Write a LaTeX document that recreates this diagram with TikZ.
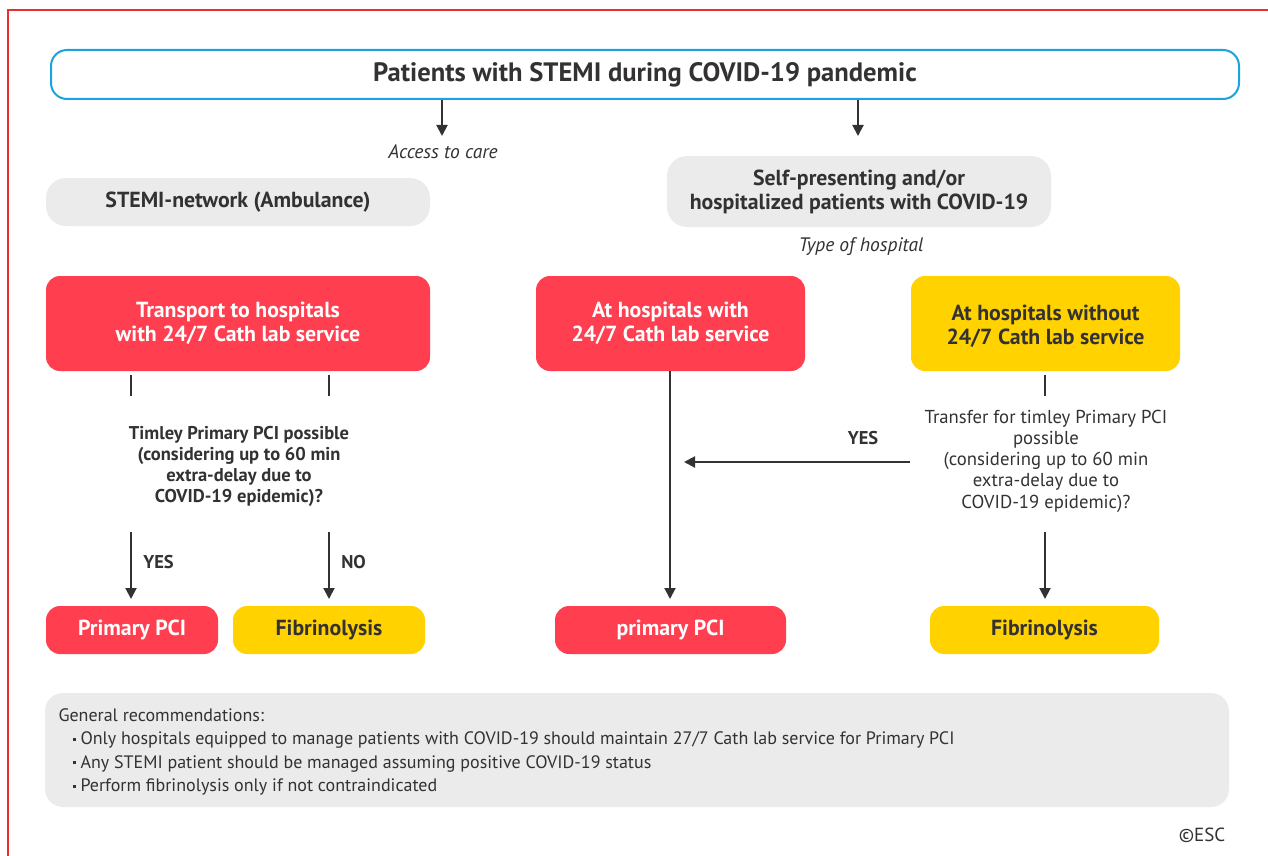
\documentclass[tikz,border=0pt]{standalone}
\usepackage{fontspec}
\setmainfont{PT Sans}
\usetikzlibrary{arrows.meta}
\definecolor{escred}{HTML}{E8302F}
\definecolor{escblue}{HTML}{1BA3E0}
\definecolor{boxred}{HTML}{FF3F50}
\definecolor{boxyel}{HTML}{FFD200}
\definecolor{boxgray}{HTML}{EBEBEB}
\definecolor{ink}{HTML}{333132}
\newcommand{\mybul}{\hspace*{14pt}\rule[4pt]{3pt}{3pt}\hspace{5pt}}
\tikzset{
  graybox/.style={fill=boxgray,rounded corners=20pt,inner sep=0pt,align=center,text=ink,font=\fontsize{21.8}{24}\selectfont\bfseries},
  redbox/.style={fill=boxred,rounded corners=14pt,inner sep=0pt,align=center,text=white,font=\fontsize{21.8}{24}\selectfont\bfseries},
  yelbox/.style={fill=boxyel,rounded corners=14pt,inner sep=0pt,align=center,text=ink,font=\fontsize{21.8}{24}\selectfont\bfseries},
  lbl/.style={text=ink,align=center,font=\fontsize{18.7}{21.2}\selectfont},
  ital/.style={text=ink,font=\fontsize{19.5}{22}\selectfont\itshape},
  conn/.style={draw=ink,line width=2pt},
  arr/.style={conn,-{Triangle[length=11pt,width=11pt]}},
}
\begin{document}
\begin{tikzpicture}[x=1pt,y=-1pt]
\useasboundingbox (0,0) rectangle (1268,856);
% border
\draw[escred,line width=2.2pt] (8,857) -- (8,10) -- (1269,10);
% title
\node[draw=escblue,line width=2pt,rounded corners=16pt,minimum width=1188pt,minimum height=49pt,inner sep=0pt,text=ink,font=\fontsize{26.6}{30}\selectfont\bfseries] (title) at (645,74.5) {Patients with STEMI during COVID-19 pandemic};
\coordinate (a1) at (442,136);
\coordinate (a2) at (858,136);
\draw[arr] (title.south -| a1) -- (a1);
\draw[arr] (title.south -| a2) -- (a2);
\node[ital] (access) at (443,152) {Access to care};
% gray boxes
\node[graybox,minimum width=384pt,minimum height=48pt] (net) at (238,202) {STEMI-network (Ambulance)};
\node[graybox,minimum width=384pt,minimum height=71pt] (self) at (859,191.5) {Self-presenting and/or\\hospitalized patients with COVID-19};
\node[ital] (type) at (861,247) {Type of hospital};
% level 2
\node[redbox,minimum width=384pt,minimum height=95pt] (trans) at (238,323.5) {Transport to hospitals\\with 24/7 Cath lab service};
\node[redbox,minimum width=269pt,minimum height=95pt] (with) at (670.5,323.5) {At hospitals with\\24/7 Cath lab service};
\node[yelbox,minimum width=269pt,minimum height=95pt,label={[yshift=-2.5pt,align=center,text=ink,font=\fontsize{21.8}{24}\selectfont\bfseries]center:{At hospitals without\\24/7 Cath lab service}}] (without) at (1045.5,323.5) {};
% left question
\node[lbl,font=\fontsize{18.5}{21}\selectfont\bfseries] (q1) at (239,466.5) {Timley Primary PCI possible\\(considering up to 60 min\\extra-delay due to\\COVID-19 epidemic)?};
\coordinate (l1) at (131,396);
\coordinate (l2) at (329,396);
\draw[conn] (131,375) -- (l1);
\draw[conn] (329,375) -- (l2);
% bottom boxes
\node[redbox,minimum width=172pt,minimum height=48pt] (ppci1) at (132,630) {Primary PCI};
\node[yelbox,minimum width=192pt,minimum height=48pt] (fib1) at (329,630) {Fibrinolysis};
\node[redbox,minimum width=231pt,minimum height=48pt] (ppci2) at (670.5,630) {primary PCI};
\node[yelbox,minimum width=229pt,minimum height=48pt] (fib2) at (1044.5,630) {Fibrinolysis};
\coordinate (s1) at (131,532);
\coordinate (s2) at (329,532);
\draw[arr] (s1) -- (s1 |- 0,599) node[pos=0.45,right=8pt,lbl,font=\fontsize{18.5}{20}\selectfont\bfseries] {YES};
\draw[arr] (s2) -- (s2 |- 0,599) node[pos=0.45,right=8pt,lbl,font=\fontsize{18.5}{20}\selectfont\bfseries] {NO};
% middle
\draw[arr] (with.south -| 670,0) -- (670,599);
% right question
\node[lbl] (q2) at (1046,461) {Transfer for timley Primary PCI\\possible\\(considering up to 60 min\\extra-delay due to\\COVID-19 epidemic)?};
\draw[conn] (1045,375) -- (1045,396);
\coordinate (yesend) at (684,462);
\draw[arr] (910,462) -- (yesend);
\node[lbl,font=\fontsize{18.5}{20}\selectfont\bfseries] (yes2) at (863,438) {YES};
\draw[arr] (1045,532) -- (1045,599);
% general
\node[fill=boxgray,rounded corners=18pt,minimum width=1184pt,minimum height=114pt,inner sep=0pt] (gen) at (637,750) {};
\node[lbl,anchor=west,align=left,font=\fontsize{18}{23.4}\selectfont] (gtext) at (55,752) {General recommendations:\\
\mybul Only hospitals equipped to manage patients with COVID-19 should maintain 27/7 Cath lab service for Primary PCI\\
\mybul Any STEMI patient should be managed assuming positive COVID-19 status\\
\mybul Perform fibrinolysis only if not contraindicated};
\node[lbl,font=\fontsize{19}{20}\selectfont] (esc) at (1202,835) {©ESC};
\end{tikzpicture}
\end{document}
